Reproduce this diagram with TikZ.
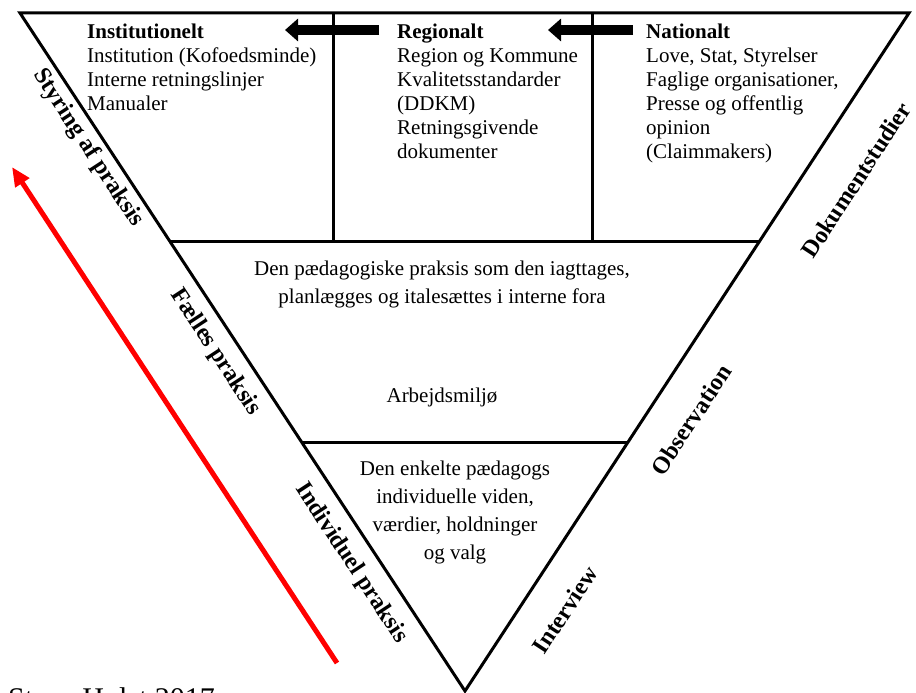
\documentclass[tikz,border=0pt]{standalone}
\usepackage{fontspec}
\setmainfont{Liberation Serif}
\usetikzlibrary{arrows.meta,calc}
\begin{document}
\begin{tikzpicture}[x=1pt,y=-1pt,
  edge/.style={line width=3pt, line join=miter},
  body/.style={font=\fontsize{21}{24}\selectfont, inner sep=0pt},
  centerbody/.style={font=\fontsize{21}{28}\selectfont, inner sep=0pt, align=center},
  sidelabel/.style={font=\fontsize{24}{27}\selectfont\bfseries, inner sep=0pt},
  levelarrow/.style={line width=10pt, -{Triangle[length=13pt,width=22pt]}},
  redarrow/.style={red, line width=5pt, -{Triangle[length=19pt,width=16pt]}}]
\useasboundingbox (0,0) rectangle (916,693);
% triangle corners
\coordinate (TL) at (20,13);
\coordinate (TR) at (909,13);
\coordinate (apex) at (465,691);
\coordinate (L1) at ($(TL)!0.3363!(apex)$);
\coordinate (R1) at ($(TR)!0.3363!(apex)$);
\coordinate (L2) at ($(TL)!0.6342!(apex)$);
\coordinate (R2) at ($(TR)!0.6342!(apex)$);
\coordinate (V1t) at (333,13);
\coordinate (V1b) at (333,241);
\coordinate (V2t) at (592,13);
\coordinate (V2b) at (592,241);
\draw[edge] (TL) -- (TR) -- (apex) -- cycle;
\draw[edge] (L1) -- (R1);
\draw[edge] (L2) -- (R2);
\draw[edge] (V1t) -- (V1b);
\draw[edge] (V2t) -- (V2b);
% level texts
\node[body, anchor=north west, align=left] (inst) at (87,23.7)
  {\textbf{Institutionelt}\\Institution (Kofoedsminde)\\Interne retningslinjer\\Manualer};
\node[body, anchor=north west, align=left] (reg) at (397,23.7)
  {\textbf{Regionalt}\\Region og Kommune\\Kvalitetsstandarder\\(DDKM)\\Retningsgivende\\dokumenter};
\node[body, anchor=north west, align=left] (nat) at (646,23.7)
  {\textbf{Nationalt}\\Love, Stat, Styrelser\\Faglige organisationer,\\Presse og offentlig\\opinion\\(Claimmakers)};
% arrows between levels
\coordinate (a1s) at (379,30);
\coordinate (a1e) at (285,30);
\coordinate (a2s) at (633,30);
\coordinate (a2e) at (548,30);
\draw[levelarrow] (a1s) -- (a1e);
\draw[levelarrow] (a2s) -- (a2e);
% middle texts
\node[centerbody, anchor=north] (prak) at (442,260.7)
  {Den pædagogiske praksis som den iagttages,\\planlægges og italesættes i interne fora};
\node[body, anchor=base] (miljo) at (442,402) {Arbejdsmiljø};
\node[centerbody, anchor=north] (indiv) at (455,460.7)
  {Den enkelte pædagogs\\individuelle viden,\\værdier, holdninger\\og valg};
% side labels
\node[sidelabel, rotate=-56.8] (styr) at (88,148) {Styring af praksis};
\node[sidelabel, rotate=-56.8] (faelles) at (215,352) {Fælles praksis};
\node[sidelabel, rotate=-56.8] (indp) at (351,563) {Individuel praksis};
\node[sidelabel, rotate=56.8] (dok) at (856,180) {Dokumentstudier};
\node[sidelabel, rotate=56.8] (obs) at (691,420) {Observation};
\node[sidelabel, rotate=56.8] (intv) at (565,610) {Interview};
% red arrow
\coordinate (rs) at (337,663);
\coordinate (re) at (12,167);
\draw[redarrow] (rs) -- (re);
% credit
\node[font=\fontsize{30}{34}\selectfont, inner sep=0pt, anchor=base west] (credit) at (8,708) {Steen Holst 2017};
\end{tikzpicture}
\end{document}
